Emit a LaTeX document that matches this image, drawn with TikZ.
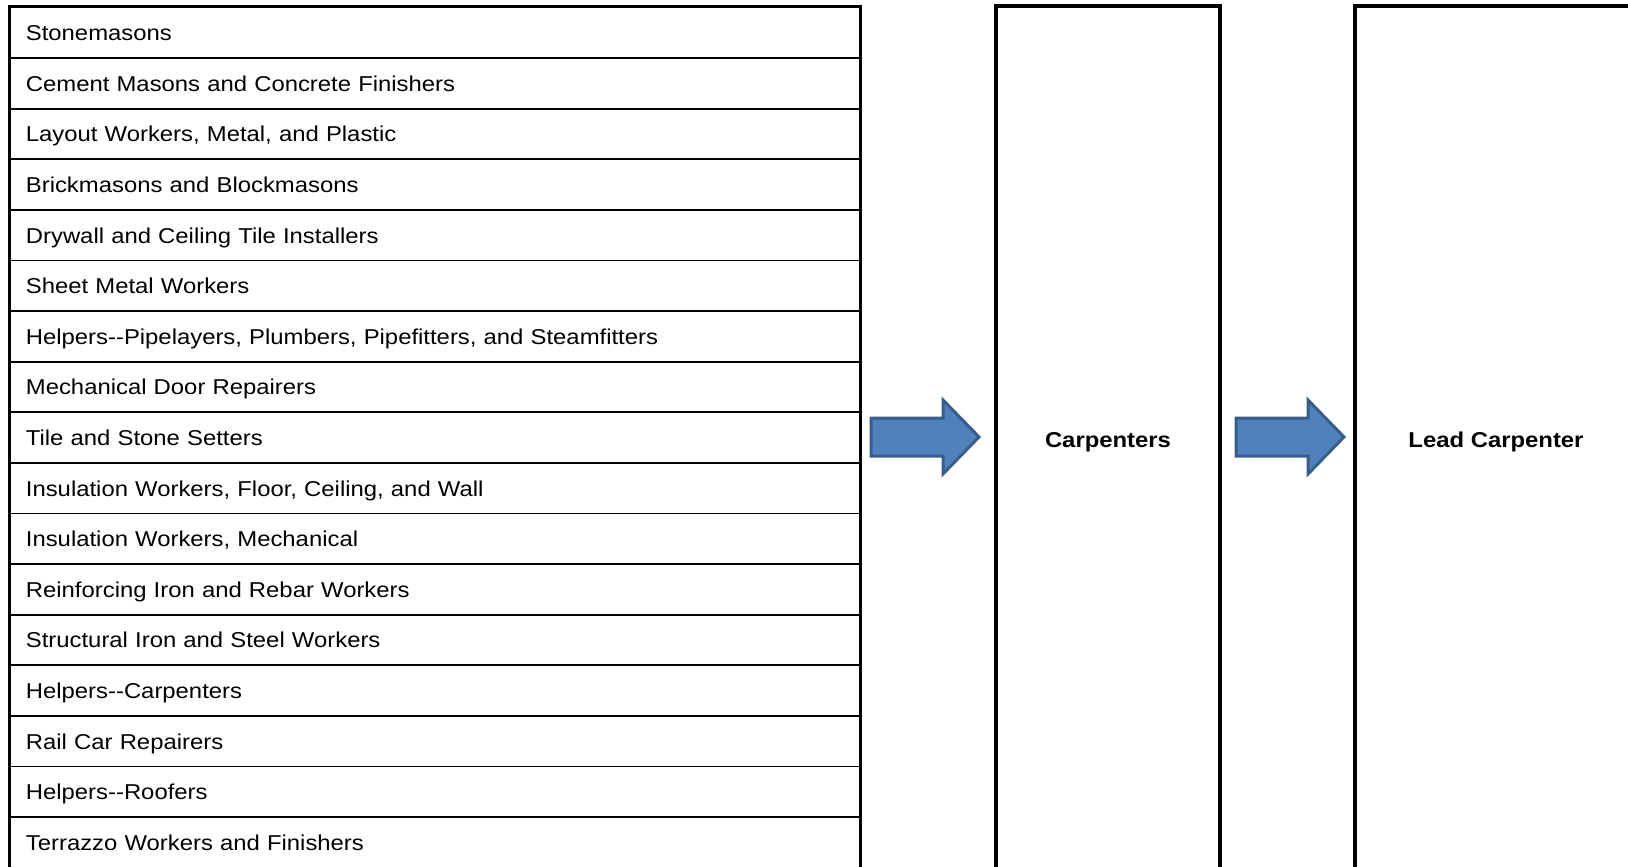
\documentclass[tikz,border=0pt]{standalone}
\usepackage{fontspec}
\setmainfont{Liberation Sans}[FakeStretch=1.11]
\usetikzlibrary{calc}
\begin{document}
\begin{tikzpicture}[x=1pt,y=-1pt,
  every node/.style={font=\fontsize{21.5}{25}\selectfont,
    text height=20pt, text depth=4pt},
  rowbox/.style={draw, line width=1.8pt, rectangle, anchor=north west,
    minimum height=50.6pt, inner xsep=15.5pt, inner ysep=0pt,
    text width=818pt, align=left},
  outerframe/.style={draw, line width=3.2pt},
  stagebox/.style={draw, line width=3.4pt, rectangle, minimum height=866pt,
    font=\fontsize{21.5}{25}\selectfont\bfseries},
  blockarrow/.style={fill={rgb,255:red,79;green,129;blue,189},
    draw={rgb,255:red,56;green,93;blue,138}, line width=3pt, line join=miter}
]
\useasboundingbox (0,0) rectangle (1628,867);
\clip (0,0) rectangle (1628,867);

% feeder occupations, one row each
\foreach \t [count=\i] in {
  Stonemasons,
  Cement Masons and Concrete Finishers,
  {Layout Workers, Metal, and Plastic},
  Brickmasons and Blockmasons,
  Drywall and Ceiling Tile Installers,
  Sheet Metal Workers,
  {Helpers-{}-Pipelayers, Plumbers, Pipefitters, and Steamfitters},
  Mechanical Door Repairers,
  Tile and Stone Setters,
  {Insulation Workers, Floor, Ceiling, and Wall},
  {Insulation Workers, Mechanical},
  Reinforcing Iron and Rebar Workers,
  Structural Iron and Steel Workers,
  Helpers-{}-Carpenters,
  Rail Car Repairers,
  Helpers-{}-Roofers}
  \node[rowbox] (r\i) at (9.5, {6.5+(\i-1)*50.6}) {\t};
\node[rowbox, draw=none] (r17) at (9.5, {6.5+16*50.6}) {Terrazzo Workers and Finishers};

% heavy frame round the list, running past the lower edge
\draw[outerframe] (r1.north west) rectangle ($(r17.south east)+(0,20)$);

% target occupations
\node[stagebox, minimum width=224pt] (carp) at (1108, 439) {Carpenters};
\node[stagebox, minimum width=282pt] (lead) at (1496, 439) {Lead Carpenter};

% block arrows between the stages
\coordinate (a1) at (871, 437);
\coordinate (a2) at (1236, 437);
\foreach \c in {a1, a2}
  \draw[blockarrow] ($(\c)+(0,-19)$) -- ++(72,0) -- ++(0,-18) -- ++(36,37)
    -- ++(-36,37) -- ++(0,-18) -- ++(-72,0) -- cycle;
\end{tikzpicture}
\end{document}
